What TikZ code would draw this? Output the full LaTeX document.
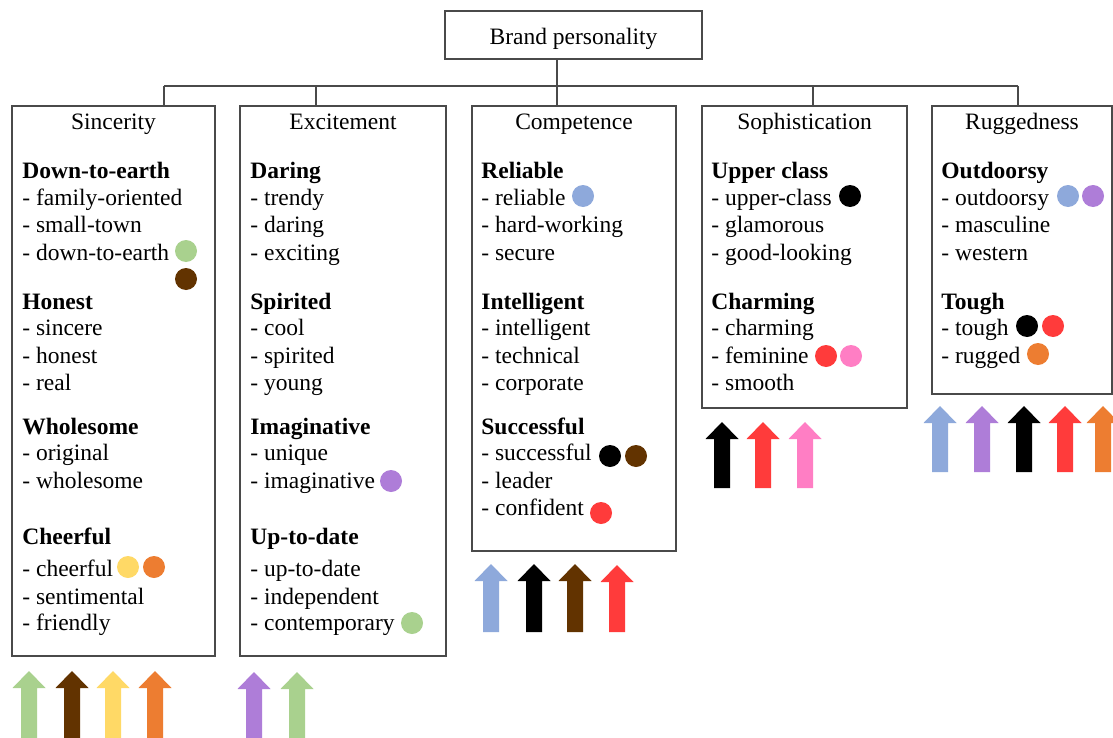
\documentclass[tikz,border=0pt]{standalone}
\usepackage{fontspec}
\setmainfont{Liberation Serif}
\definecolor{cgreen}{HTML}{A9D18E}
\definecolor{cbrown}{HTML}{623300}
\definecolor{cyellow}{HTML}{FFD966}
\definecolor{corange}{HTML}{ED7D31}
\definecolor{cpurple}{HTML}{AE7DD8}
\definecolor{cblue}{HTML}{8EA9DB}
\definecolor{cred}{HTML}{FF3B3B}
\definecolor{cpink}{HTML}{FF7EC4}
\definecolor{linegray}{HTML}{4A4A4A}
\tikzset{
  box/.style={draw=linegray, line width=1pt, inner sep=0pt, outer sep=0pt, anchor=north west},
  link/.style={draw=linegray, line width=1pt},
  txt/.style={anchor=base west, inner sep=0pt, yshift=-1pt, font=\fontsize{11.75}{14}\selectfont},
  ttl/.style={anchor=base, inner sep=0pt, yshift=-1pt, font=\fontsize{11.75}{14}\selectfont},
  dot/.style={circle, inner sep=0pt, minimum size=11pt, fill=#1},
}
\newcommand\blockarr[4]{\fill[#4] ({#1-8},#3) -- ({#1-8},{#2+17}) -- ({#1-16.5},{#2+17}) -- (#1,#2) -- ({#1+16.5},{#2+17}) -- ({#1+8},{#2+17}) -- ({#1+8},#3) -- cycle;}
\begin{document}
\begin{tikzpicture}[x=0.5pt,y=-0.5pt]
\clip (0,0) rectangle (1113,738);
\fill[white] (0,0) rectangle (1113,738);
% boxes
\node[box, minimum width=128.5pt, minimum height=24pt] (top) at (445,11) {};
\node[ttl] (toptxt) at (573.5,43) {Brand personality};
\node[box, minimum width=101.5pt, minimum height=275pt] (sinc) at (12,106) {};
\node[box, minimum width=103pt, minimum height=275pt] (exci) at (240,106) {};
\node[box, minimum width=102pt, minimum height=222.5pt] (comp) at (472,106) {};
\node[box, minimum width=102.5pt, minimum height=151pt] (soph) at (702,106) {};
\node[box, minimum width=90pt, minimum height=144pt] (rugg) at (932,106) {};
% connectors
\coordinate (bus) at (557,86);
\coordinate (jS) at (164,86);
\coordinate (jE) at (316,86);
\coordinate (jC) at (557,86);
\coordinate (jP) at (813,86);
\coordinate (jR) at (1018,86);
\draw[link] (top.south -| bus) -- (bus);
\draw[link] (jS) -- (jR);
\draw[link] (jS) -- (jS |- sinc.north);
\draw[link] (jE) -- (jE |- exci.north);
\draw[link] (jC) -- (jC |- comp.north);
\draw[link] (jP) -- (jP |- soph.north);
\draw[link] (jR) -- (jR |- rugg.north);
% titles
\node[ttl] (tS) at (113.5,127) {Sincerity};
\node[ttl] (tE) at (343,127) {Excitement};
\node[ttl] (tC) at (574,127) {Competence};
\node[ttl] (tP) at (804.5,127) {Sophistication};
\node[ttl] (tR) at (1022,127) {Ruggedness};
% texts
\foreach \yy/\t [count=\i] in {176/\textbf{Down-to-earth}, 203/- family-oriented, 230/- small-town, 258/- down-to-earth,
  307/\textbf{Honest}, 333/- sincere, 361/- honest, 388/- real,
  432/\textbf{Wholesome}, 458/- original, 486/- wholesome,
  542/\textbf{Cheerful}, 574/- cheerful, 602/- sentimental, 628/- friendly}
  \node[txt] (s\i) at (22,\yy) {\t};
\foreach \yy/\t [count=\i] in {176/\textbf{Daring}, 203/- trendy, 230/- daring, 258/- exciting,
  307/\textbf{Spirited}, 333/- cool, 361/- spirited, 388/- young,
  432/\textbf{Imaginative}, 458/- unique, 486/- imaginative,
  542/\textbf{Up-to-date}, 574/- up-to-date, 602/- independent, 628/- contemporary}
  \node[txt] (e\i) at (250,\yy) {\t};
\foreach \yy/\t [count=\i] in {176/\textbf{Reliable}, 203/- reliable, 230/- hard-working, 258/- secure,
  307/\textbf{Intelligent}, 333/- intelligent, 361/- technical, 388/- corporate,
  432/\textbf{Successful}, 458/- successful, 486/- leader, 513/- confident}
  \node[txt] (c\i) at (481,\yy) {\t};
\foreach \yy/\t [count=\i] in {176/\textbf{Upper class}, 203/- upper-class, 230/- glamorous, 258/- good-looking,
  307/\textbf{Charming}, 333/- charming, 361/- feminine, 388/- smooth}
  \node[txt] (p\i) at (711,\yy) {\t};
\foreach \yy/\t [count=\i] in {176/\textbf{Outdoorsy}, 203/- outdoorsy, 230/- masculine, 258/- western,
  307/\textbf{Tough}, 333/- tough, 361/- rugged}
  \node[txt] (r\i) at (941,\yy) {\t};
% dots
\node[dot=cgreen] (d1) at (186,251) {};
\node[dot=cbrown] (d2) at (186,279) {};
\node[dot=cyellow] (d3) at (128,567) {};
\node[dot=corange] (d4) at (154,567) {};
\node[dot=cpurple] (d5) at (391,481) {};
\node[dot=cgreen] (d6) at (412,623) {};
\node[dot=cblue] (d7) at (583,196) {};
\node[dot=black] (d8) at (610,456) {};
\node[dot=cbrown] (d9) at (636,456) {};
\node[dot=cred] (d10) at (601,513) {};
\node[dot=black] (d11) at (850,196) {};
\node[dot=cred] (d12) at (826,356) {};
\node[dot=cpink] (d13) at (851,356) {};
\node[dot=cblue] (d14) at (1068,196) {};
\node[dot=cpurple] (d15) at (1093,196) {};
\node[dot=black] (d16) at (1027,326) {};
\node[dot=cred] (d17) at (1053,326) {};
\node[dot=corange] (d18) at (1038,354) {};
% arrows
\blockarr{29}{671}{745}{cgreen}
\blockarr{72}{671}{745}{cbrown}
\blockarr{113}{671}{745}{cyellow}
\blockarr{155}{671}{745}{corange}
\blockarr{254}{672}{745}{cpurple}
\blockarr{297}{672}{745}{cgreen}
\blockarr{491}{564}{632}{cblue}
\blockarr{534}{564}{632}{black}
\blockarr{575}{564}{632}{cbrown}
\blockarr{617}{565}{632}{cred}
\blockarr{722}{422}{488}{black}
\blockarr{763}{422}{488}{cred}
\blockarr{805}{422}{488}{cpink}
\blockarr{940}{406}{472}{cblue}
\blockarr{982}{406}{472}{cpurple}
\blockarr{1024}{406}{472}{black}
\blockarr{1065}{406}{472}{cred}
\blockarr{1103}{406}{472}{corange}
\end{tikzpicture}
\end{document}
